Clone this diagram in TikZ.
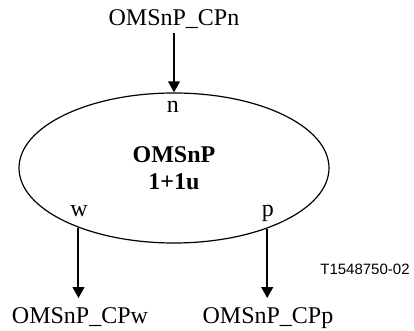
\documentclass[tikz,border=0pt]{standalone}
\usepackage{fontspec}
\setmainfont{Liberation Serif}
\newfontfamily\tagfont{Liberation Sans}
\usetikzlibrary{arrows.meta,positioning,shapes.geometric}

\begin{document}
\begin{tikzpicture}[
  x=0.5pt,y=-0.5pt,
  >={Triangle[length=5.5pt,width=5.8pt]},
  every node/.style={font=\fontsize{12}{13.5}\selectfont},
  lbl/.style={inner sep=2pt,anchor=base},
  port/.style={inner sep=0pt,anchor=base},
  sig/.style={->,line width=1pt},
  fn/.style={ellipse,draw,line width=0.6pt,minimum width=155pt,
             minimum height=75pt,inner sep=0pt,align=center}
]
\useasboundingbox (0,0) rectangle (414,331);

% function node and its ports
\node[fn,font=\fontsize{12}{13.5}\selectfont\bfseries] (om) at (174,168) {OMSnP\\1+1u};
\node[port] (nlbl) at (173,113) {n};
\node[port] (wlbl) at (79,217) {w};
\node[port] (plbl) at (268,217) {p};
\coordinate (wport) at (om.212.4);
\coordinate (pport) at (om.327.2);

% connection points
\node[lbl] (cpn) at (174,26) {OMSnP\_CPn};
\node[lbl,outer sep=3pt] (cpw) at (80,324) {OMSnP\_CPw};
\node[lbl,outer sep=3pt] (cpp) at (268,324) {OMSnP\_CPp};

\node[anchor=base,font=\tagfont\fontsize{7.5}{9}\selectfont] (tag) at (365,275) {T1548750-02};

\draw[sig] (cpn) -- (om);
\draw[sig] (wport) -- (wport |- cpw.north);
\draw[sig] (pport) -- (pport |- cpp.north);
\end{tikzpicture}
\end{document}
